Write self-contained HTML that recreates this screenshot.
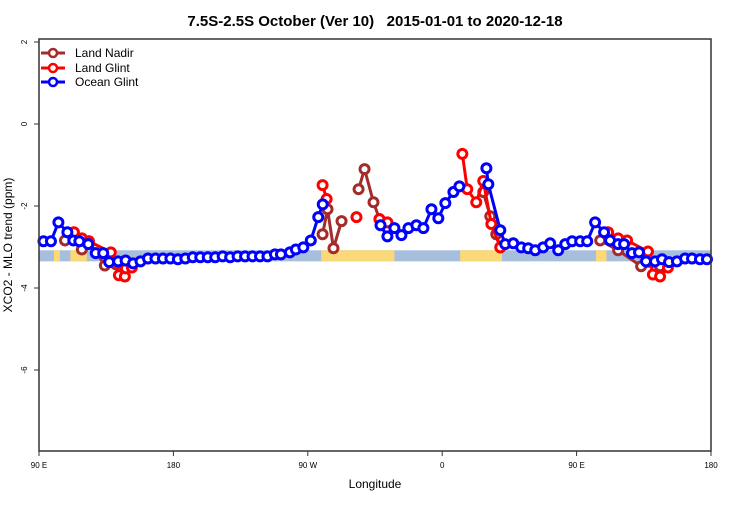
<!DOCTYPE html>
<html><head><meta charset="utf-8"><style>
body{margin:0;background:#fff;font-family:"Liberation Sans",sans-serif}
svg text{font-family:"Liberation Sans",sans-serif}
</style></head><body>
<svg id="c" width="750" height="500">
<text x="375" y="26" text-anchor="middle" font-size="15" font-weight="bold">7.5S-2.5S October (Ver 10)&#160;&#160; 2015-01-01 to 2020-12-18</text>
<g id="band"></g>
<g id="series"></g>
<rect x="39" y="39" width="672" height="412" fill="none" stroke="#333" stroke-width="1.5"/>
<g id="axes"></g>
<text x="375" y="488" text-anchor="middle" font-size="12">Longitude</text>
<text transform="translate(12,245) rotate(-90)" text-anchor="middle" font-size="12">XCO2 - MLO trend (ppm)</text>
<g>
<g><line x1="41" y1="53" x2="65" y2="53" stroke="#a52a2a" stroke-width="3"/><circle cx="53" cy="53" r="4" fill="#fff" stroke="#a52a2a" stroke-width="2.5"/><text x="75" y="57" font-size="12">Land Nadir</text></g>
<g><line x1="41" y1="68" x2="65" y2="68" stroke="#f00" stroke-width="3"/><circle cx="53" cy="68" r="4" fill="#fff" stroke="#f00" stroke-width="2.5"/><text x="75" y="72" font-size="12">Land Glint</text></g>
<g><line x1="41" y1="82" x2="65" y2="82" stroke="#00f" stroke-width="3"/><circle cx="53" cy="82" r="4" fill="#fff" stroke="#00f" stroke-width="2.5"/><text x="75" y="86" font-size="12">Ocean Glint</text></g>
</g>
</svg>
<script>
const xTickVals=[90,180,270,360,450,540];
const xTickLabels=["90 E","180","90 W","0","90 E","180"];
const yTickVals=[2,0,-2,-4,-6];
const yTickLabels=["2","0","-2","-4","-6"];
const oceanLon=[93,98,103,109,113,117,123,128,133,137,143,148,153,158,163,168,173,178,183,188,193,198,203,208,213,218,223,228,233,238,243,248,252,258,262,267,272,277,280,null,318.7,323.3,328,332.7,337.4,342.7,347.4,352.8,357.4,362.1,367.5,371.5,null,389.6,390.9,398.9,402.2,407.6,412.9,417.6,422.3,427.6,432.3,437.7,442.4,447,452.4,457.1,462.4,468.4,472.4,477.8,481.8,487.1,491.8,496.5,502.5,507.2,511.9,517.2,522.6,527.3,532.6,537.3];
const oceanVal=[-2.86,-2.86,-2.40,-2.64,-2.84,-2.86,-2.93,-3.15,-3.15,-3.37,-3.35,-3.33,-3.40,-3.35,-3.28,-3.28,-3.28,-3.28,-3.30,-3.28,-3.25,-3.25,-3.25,-3.25,-3.23,-3.25,-3.23,-3.23,-3.23,-3.23,-3.23,-3.18,-3.18,-3.13,-3.06,-3.01,-2.84,-2.27,-1.96,null,-2.47,-2.74,-2.54,-2.71,-2.54,-2.47,-2.54,-2.08,-2.30,-1.93,-1.66,-1.52,null,-1.08,-1.47,-2.59,-2.93,-2.91,-3.01,-3.03,-3.08,-3.01,-2.91,-3.08,-2.93,-2.86,-2.86,-2.86,-2.40,-2.64,-2.84,-2.93,-2.93,-3.15,-3.13,-3.35,-3.35,-3.30,-3.37,-3.35,-3.28,-3.28,-3.30,-3.30];
const glintLon=[113.4,118.7,123.4,138.1,143.5,147.5,148.2,152.2,null,279.9,282.6,null,302.6,null,318,323.3,null,373.5,376.8,382.8,387.5,392.9,398.9,null,471.1,477.8,483.8,497.8,501.1,505.9,511.2];
const glintVal=[-2.64,-2.79,-2.86,-3.13,-3.69,-3.72,-3.52,-3.50,null,-1.49,-1.83,null,-2.27,null,-2.32,-2.40,null,-0.73,-1.59,-1.91,-1.39,-2.44,-3.01,null,-2.64,-2.79,-2.84,-3.11,-3.67,-3.72,-3.50];
const nadirLon=[107.4,112.7,118.7,123.4,134.1,141.5,147.5,null,279.9,283.2,287.2,292.6,null,304,308,314,318,323.3,null,387.5,392.2,396.2,398.9,null,465.8,477.8,493.2,505.9];
const nadirVal=[-2.84,-2.74,-3.06,-2.86,-3.45,-3.42,-3.47,null,-2.69,-2.08,-3.03,-2.37,null,-1.59,-1.10,-1.91,-2.32,-2.54,null,-1.66,-2.25,-2.69,-3.01,null,-2.84,-3.08,-3.47,-3.47];
const X=l=>39+(l-90)*672/450;
const Y=v=>124-41*v;
const NS="http://www.w3.org/2000/svg";
function mk(t,a,p){const e=document.createElementNS(NS,t);for(const k in a)e.setAttribute(k,a[k]);p.appendChild(e);return e;}
const band=document.getElementById('band');
mk('rect',{x:39,y:Y(-3.08),width:672,height:Y(-3.35)-Y(-3.08),fill:'#a7bedc'},band);
[[279,328],[372,400],[100,104],[111,122],[463,470]].forEach(r=>{
 const e=mk('rect',{x:X(r[0]),y:Y(-3.08),width:X(r[1])-X(r[0]),height:Y(-3.35)-Y(-3.08),fill:'#fbd978'},band);
 
 
});
const ax=document.getElementById('axes');
xTickVals.forEach((v,i)=>{
 mk('line',{x1:X(v),x2:X(v),y1:451,y2:456,stroke:'#333'},ax);
 const t=mk('text',{x:X(v),y:468,'text-anchor':'middle','font-size':'8'},ax);t.textContent=xTickLabels[i];
 
 
});
yTickVals.forEach((v,i)=>{
 mk('line',{x1:34,x2:39,y1:Y(v),y2:Y(v),stroke:'#333'},ax);
 const t=mk('text',{transform:`translate(27,${Y(v)}) rotate(-90)`,'text-anchor':'middle','font-size':'8'},ax);t.textContent=yTickLabels[i];
 
 
});
function series(lons,vals,col,name){
 const g=mk('g',{},document.getElementById('series'));
 
 
 let d='',pen=false;
 lons.forEach((l,i)=>{if(l===null||vals[i]===null){pen=false;return;}d+=(pen?'L':'M')+X(l)+','+Y(vals[i]);pen=true;});
 mk('path',{d:d,fill:'none',stroke:col,'stroke-width':3,'stroke-linejoin':'round'},g);
 lons.forEach((l,i)=>{if(l===null||vals[i]===null)return;
  const c=mk('circle',{cx:X(l),cy:Y(vals[i]),r:4.5,fill:'#fff',stroke:col,'stroke-width':3},g);
  
  
 });
}
series(nadirLon,nadirVal,'#a52a2a','land-nadir-series');
series(glintLon,glintVal,'#ff0000','land-glint-series');
series(oceanLon,oceanVal,'#0000ff','ocean-glint-series');
</script>
</body></html>
